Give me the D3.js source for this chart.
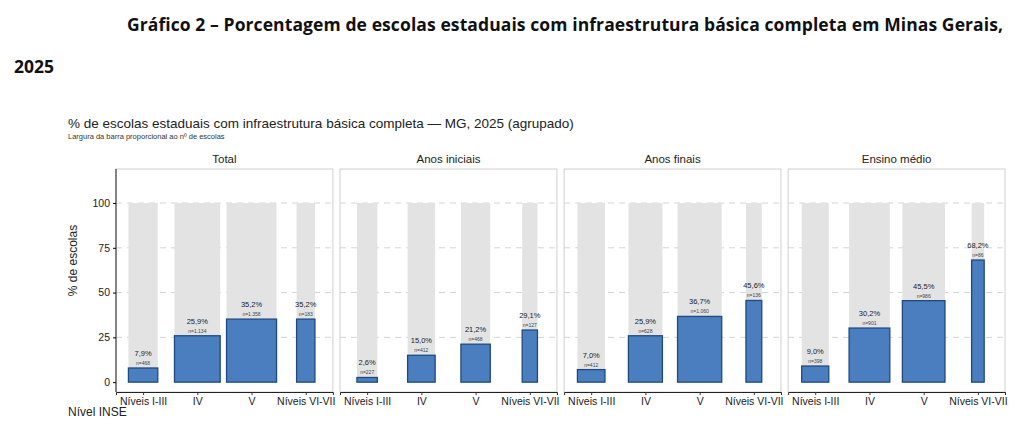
<!DOCTYPE html>
<html><head><meta charset="utf-8">
<script src="https://cdn.jsdelivr.net/npm/d3@7"></script>
<style>body{margin:0;background:#fff}svg{font-family:"Liberation Sans",Arial,sans-serif}</style>
</head><body><svg id="chart" width="1024" height="436"></svg>
<script>
const panels = ['Total', 'Anos iniciais', 'Anos finais', 'Ensino médio'];
const levels = ['Níveis I-III', 'IV', 'V', 'Níveis VI-VII'];
const pctValues = [
  [7.9, 25.9, 35.2, 35.2],
  [2.6, 15.0, 21.2, 29.1],
  [7.0, 25.9, 36.7, 45.6],
  [9.0, 30.2, 45.5, 68.2]
];
const nValues = [
  [468, 1134, 1358, 183],
  [227, 412, 468, 127],
  [412, 628, 1060, 136],
  [398, 901, 986, 86]
];
const yTicks = [0, 25, 50, 75, 100];

const svg = d3.select('#chart');
const fmtN = d3.formatLocale({ decimal: ',', thousands: '.', grouping: [3] }).format(',d');
const fmtP = (v) => v.toFixed(1).replace('.', ',') + '%';

//Main title (justified first line)
svg.append('text').attr('x', 127).attr('y', 31).attr('textLength', 876)
  .attr('font-family', 'Open Sans').attr('font-weight', 'bold').attr('font-size', 17.5)
  .attr('fill', '#111').text('Gráfico 2 – Porcentagem de escolas estaduais com infraestrutura básica completa em Minas Gerais,');
svg.append('text').attr('x', 14).attr('y', 73)
  .attr('font-family', 'Open Sans').attr('font-weight', 'bold').attr('font-size', 17.5)
  .attr('fill', '#111').text('2025');

svg.append('text').attr('x', 68).attr('y', 128).attr('font-size', 13.5).attr('fill', '#222')
  .text('% de escolas estaduais com infraestrutura básica completa — MG, 2025 (agrupado)');
svg.append('text').attr('x', 68).attr('y', 139).attr('font-size', 7.5).attr('fill', '#333')
  .text('Largura da barra proporcional ao nº de escolas');

const plotTop = 169, plotBottom = 392;
const yScale = d3.scaleLinear().domain([-5.5, 119]).range([plotBottom, plotTop]);
const wScale = d3.scaleSqrt().domain([0, 1358]).range([0, 50]);
const panelX = d3.scaleBand().domain(panels).range([116, 1005]).paddingInner(0.032);

panels.forEach((p, pi) => {
  const x0 = panelX(p), pw = panelX.bandwidth();
  const xScale = d3.scalePoint().domain(levels).range([x0, x0 + pw]).padding(0.5);
  const g = svg.append('g');

  // grid
  g.selectAll('.grid').data(yTicks.slice(1)).enter().append('line')
    .attr('x1', x0).attr('x2', x0 + pw)
    .attr('y1', (d) => yScale(d)).attr('y2', (d) => yScale(d))
    .attr('stroke', '#d4d4d4').attr('stroke-dasharray', '6,5');

  // backgrounds to 100
  g.selectAll('.bg').data(levels).enter().append('rect')
    .attr('x', (d, i) => xScale(d) - wScale(nValues[pi][i]) / 2)
    .attr('width', (d, i) => wScale(nValues[pi][i]))
    .attr('y', yScale(100)).attr('height', yScale(0) - yScale(100))
    .attr('fill', '#e3e3e3');

  // bars
  g.selectAll('.bar').data(levels).enter().append('rect')
    .attr('x', (d, i) => xScale(d) - wScale(nValues[pi][i]) / 2)
    .attr('width', (d, i) => wScale(nValues[pi][i]))
    .attr('y', (d, i) => yScale(pctValues[pi][i]))
    .attr('height', (d, i) => yScale(0) - yScale(pctValues[pi][i]))
    .attr('fill', '#4a7ebf').attr('stroke', '#1f4a80').attr('stroke-width', 1.3);

  // labels
  g.selectAll('.pl').data(levels).enter().append('text')
    .attr('x', (d) => xScale(d)).attr('y', (d, i) => yScale(pctValues[pi][i]) - 12)
    .attr('text-anchor', 'middle').attr('font-size', 7.5).attr('fill', '#222')
    .text((d, i) => fmtP(pctValues[pi][i]));
  g.selectAll('.nl').data(levels).enter().append('text')
    .attr('x', (d) => xScale(d)).attr('y', (d, i) => yScale(pctValues[pi][i]) - 3)
    .attr('text-anchor', 'middle').attr('font-size', 5).attr('fill', '#444')
    .text((d, i) => 'n=' + fmtN(nValues[pi][i]));

  // panel border
  g.append('rect').attr('x', x0).attr('y', plotTop).attr('width', pw).attr('height', plotBottom - plotTop)
    .attr('fill', 'none').attr('stroke', '#cfcfcf');

  // strip title
  svg.append('text').attr('x', x0 + pw / 2).attr('y', 163).attr('text-anchor', 'middle')
    .attr('font-size', 11.5).attr('fill', '#222').text(p);

  // x axis
  const xa = svg.append('g').attr('transform', `translate(0,${plotBottom})`)
    .call(d3.axisBottom(xScale).tickSize(3));
  xa.select('.domain').attr('stroke', '#222');
  xa.selectAll('line').attr('stroke', '#333');
  xa.selectAll('text').attr('font-size', 10.5).attr('fill', '#222').attr('font-family', 'Liberation Sans');

  if (pi === 0) {
    const ya = svg.append('g').attr('transform', `translate(${x0},0)`)
      .call(d3.axisLeft(yScale).tickValues(yTicks).tickSize(3));
    ya.select('.domain').attr('stroke', '#222').attr('d', `M0,${plotTop}V${plotBottom}`);
    ya.selectAll('text').attr('font-size', 10.5).attr('fill', '#222').attr('font-family', 'Liberation Sans');
  }
});

svg.append('text').attr('transform', `translate(77,${(plotTop + plotBottom) / 2 - 20}) rotate(-90)`)
  .attr('text-anchor', 'middle').attr('font-size', 12).attr('fill', '#222').text('% de escolas');
svg.append('text').attr('x', 68).attr('y', 416).attr('font-size', 12).attr('fill', '#222').text('Nível INSE');
</script></body></html>
